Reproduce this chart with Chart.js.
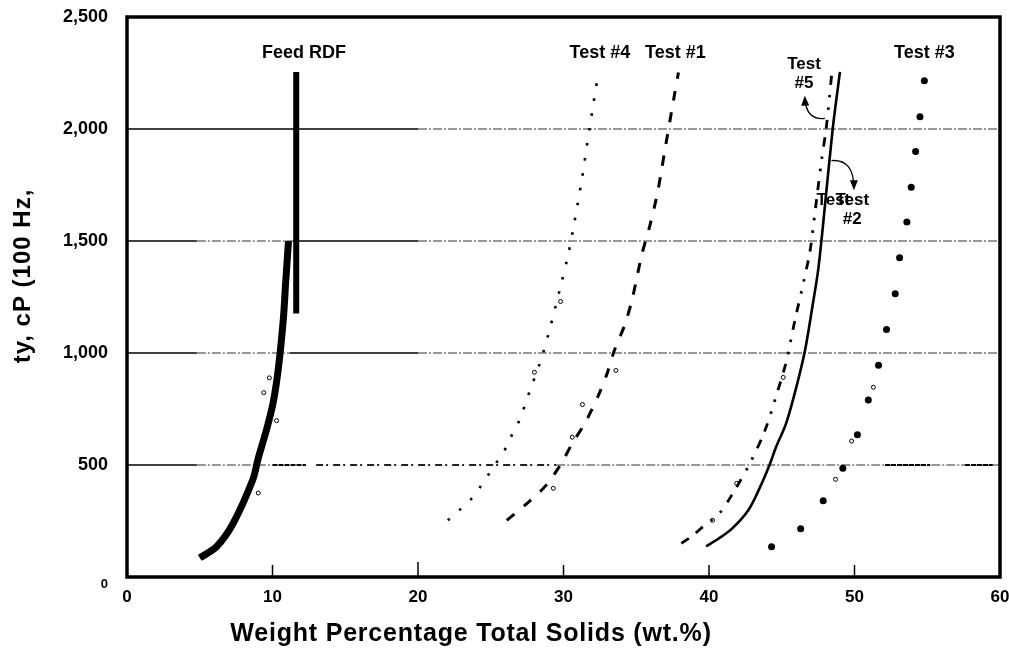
<!DOCTYPE html>
<html lang="en">
<head>
    <meta charset="UTF-8">
    <title>Viscosity vs Total Solids</title>
    <script src="https://cdn.jsdelivr.net/npm/chart.js"></script>
    <style>
        html, body { margin: 0; padding: 0; background: #fff; }
        #wrap { width: 1009px; height: 648px; position: relative; }
    </style>
</head>
<body>
    <div id="wrap">
        <canvas id="myChart"></canvas>
    </div>
    <script>
        // x = weight % total solids, y = viscosity in cP
        const seriesNames = ['Feed RDF', 'Test #4', 'Test #1', 'Test #5', 'Test #2', 'Test #3'];

        const feedX = [5.0, 6.15, 7.3, 8.65, 9.0, 9.6, 10.05, 10.4, 10.75, 10.9, 11.1];
        const feedY = [85, 135, 240, 435, 525, 660, 780, 930, 1155, 1310, 1500];

        // vertical bar next to the feed curve
        const feedBarX = [11.63, 11.63];
        const feedBarY = [1176, 2254];

        const test4X = [22.05, 22.9, 23.7, 24.3, 24.9, 25.5, 26.1, 26.5, 27.0, 27.7, 28.4, 29.0, 29.8, 30.3, 30.7, 31.25, 31.8, 32.4];
        const test4Y = [253, 302, 351, 404, 463, 521, 583, 641, 704, 834, 959, 1093, 1298, 1432, 1566, 1771, 2007, 2252];

        const test1X = [26.1, 27.5, 28.8, 29.85, 30.6, 31.5, 32.4, 33.0, 33.5, 34.2, 34.7, 35.1, 35.4, 35.9, 36.4, 36.7, 37.0, 37.6, 37.9];
        const test1Y = [253, 329, 409, 507, 596, 690, 811, 909, 1012, 1124, 1235, 1355, 1444, 1560, 1696, 1802, 1918, 2143, 2252];

        const test5X = [38.1, 38.9, 39.7, 40.7, 41.55, 42.8, 43.85, 44.7, 45.3, 45.9, 46.45, 46.95, 47.3, 47.75, 48.05, 48.45];
        const test5Y = [150, 186, 231, 283, 364, 506, 655, 826, 959, 1145, 1302, 1458, 1637, 1868, 2000, 2256];

        const test2X = [39.8, 40.7, 41.6, 42.7, 43.5, 44.2, 44.6, 45.3, 46.0, 46.6, 47.1, 47.5, 47.8, 48.5, 49.0];
        const test2Y = [137, 173, 217, 298, 400, 507, 579, 686, 847, 1012, 1204, 1369, 1547, 2000, 2255];

        const test3X = [44.3, 46.3, 47.85, 49.2, 50.2, 50.95, 51.65, 52.2, 52.8, 53.1, 53.6, 53.9, 54.2, 54.5, 54.8];
        const test3Y = [135, 215, 340, 485, 635, 790, 945, 1105, 1265, 1425, 1585, 1740, 1900, 2055, 2215];

        // individual open-circle readings around the curves
        const readingX = [9.4, 9.78, 10.28, 9.02, 29.8, 28.0, 31.3, 30.6, 29.3, 33.6, 45.1, 41.9, 40.25, 48.7, 49.8, 51.3];
        const readingY = [823, 889, 698, 375, 1230, 914, 770, 624, 396, 922, 891, 418, 253, 436, 607, 847];

        const xTicks = [0, 10, 20, 30, 40, 50, 60];
        const yTicks = [0, 500, 1000, 1500, 2000, 2500];
        const yTickLabels = ['0', '500', '1,000', '1,500', '2,000', '2,500'];

        const xTitle = 'Weight Percentage Total Solids (wt.%)';
        const yTitle = 'ty, cP (100 Hz,';

        const pts = (xs, ys) => xs.map((x, i) => ({ x: x, y: ys[i] }));

        const FONT = '"Liberation Sans", Arial, Helvetica, sans-serif';

        // horizontal rules: solid at the left, broken further right
        const gridRuns = {
            2000: [[0, 20, 'solid'], [20, 60, 'dash']],
            1500: [[0, 4.8, 'solid'], [4.8, 11.4, 'dash'], [11.4, 20, 'solid'], [20, 60, 'dash']],
            1000: [[0, 4.8, 'solid'], [4.8, 11.2, 'dash'], [11.2, 20, 'solid'], [20, 60, 'dash']],
            500: [[0, 4.8, 'solid'], [4.8, 10, 'dash'], [10, 12.3, 'heavy'], [13, 29.5, 'broken'], [29.5, 60, 'dash'], [52.1, 55.2, 'heavy'], [57.6, 59.5, 'heavy']]
        };
        const runStyles = {
            solid: { color: '#000', width: 1.6, dash: [] },
            dash: { color: '#333', width: 1.1, dash: [9, 2, 2, 2] },
            heavy: { color: '#000', width: 2, dash: [5, 1] },
            broken: { color: '#222', width: 2, dash: [7, 3, 2, 5] }
        };

        // text notes and pointer arrows, placed in data units
        const notes = [
            { lines: ['Feed RDF'], x: 12.16, y: 2337, size: 18 },
            { lines: ['Test #4'], x: 32.5, y: 2337, size: 18 },
            { lines: ['Test #1'], x: 37.69, y: 2337, size: 18 },
            { lines: ['Test', '#5'], x: 46.53, y: 2290, size: 17 },
            { lines: ['Test #3'], x: 54.8, y: 2341, size: 18 },
            { lines: ['Test'], x: 48.55, y: 1683, size: 17 },
            { lines: ['Test', '#2'], x: 49.85, y: 1683, size: 17 }
        ];
        const arrows = [
            { from: [47.96, 2047], via: [46.66, 2038], to: [46.59, 2140] },
            { from: [48.42, 1859], via: [49.96, 1866], to: [49.96, 1736] }
        ];

        const paperPlugin = {
            id: 'paper',
            beforeDatasetsDraw(chart) {
                const { ctx, scales: { x, y } } = chart;
                ctx.save();
                Object.keys(gridRuns).forEach(level => {
                    const py = y.getPixelForValue(Number(level));
                    gridRuns[level].forEach(([from, to, kind]) => {
                        const st = runStyles[kind];
                        ctx.beginPath();
                        ctx.strokeStyle = st.color;
                        ctx.lineWidth = st.width;
                        ctx.setLineDash(st.dash);
                        ctx.moveTo(x.getPixelForValue(from), py);
                        ctx.lineTo(x.getPixelForValue(to), py);
                        ctx.stroke();
                    });
                });
                ctx.restore();
            },
            afterDatasetsDraw(chart) {
                const { ctx, chartArea: a, scales: { x, y } } = chart;
                ctx.save();

                // frame
                ctx.strokeStyle = '#000';
                ctx.lineWidth = 3.5;
                ctx.setLineDash([]);
                ctx.strokeRect(a.left, a.top, a.right - a.left, a.bottom - a.top);

                // small inside ticks on the x axis
                ctx.lineWidth = 1.5;
                xTicks.slice(1, -1).forEach(v => {
                    const px = x.getPixelForValue(v);
                    ctx.beginPath();
                    ctx.moveTo(px, a.bottom);
                    ctx.lineTo(px, a.bottom - (v === 20 ? 15 : 12));
                    ctx.stroke();
                });

                // notes
                ctx.fillStyle = '#000';
                ctx.textAlign = 'center';
                ctx.textBaseline = 'middle';
                notes.forEach(n => {
                    ctx.font = 'bold ' + n.size + 'px ' + FONT;
                    const px = x.getPixelForValue(n.x);
                    const py = y.getPixelForValue(n.y);
                    n.lines.forEach((t, i) => ctx.fillText(t, px, py + i * (n.size + 2)));
                });

                // curved pointers
                ctx.lineWidth = 1.3;
                arrows.forEach(ar => {
                    const p0 = [x.getPixelForValue(ar.from[0]), y.getPixelForValue(ar.from[1])];
                    const p1 = [x.getPixelForValue(ar.via[0]), y.getPixelForValue(ar.via[1])];
                    const p2 = [x.getPixelForValue(ar.to[0]), y.getPixelForValue(ar.to[1])];
                    ctx.beginPath();
                    ctx.moveTo(p0[0], p0[1]);
                    ctx.quadraticCurveTo(p1[0], p1[1], p2[0], p2[1]);
                    ctx.stroke();
                    const ang = Math.atan2(p2[1] - p1[1], p2[0] - p1[0]);
                    const len = 8, half = 4;
                    ctx.beginPath();
                    ctx.moveTo(p2[0] + Math.cos(ang) * 2, p2[1] + Math.sin(ang) * 2);
                    ctx.lineTo(p2[0] - Math.cos(ang) * len + Math.sin(ang) * half, p2[1] - Math.sin(ang) * len - Math.cos(ang) * half);
                    ctx.lineTo(p2[0] - Math.cos(ang) * len - Math.sin(ang) * half, p2[1] - Math.sin(ang) * len + Math.cos(ang) * half);
                    ctx.closePath();
                    ctx.fill();
                });

                // axis titles
                ctx.font = 'bold 25px ' + FONT;
                ctx.letterSpacing = '0.8px';
                ctx.fillText(xTitle, 471, 634);
                ctx.translate(23, 276);
                ctx.rotate(-Math.PI / 2);
                ctx.font = 'bold 24px ' + FONT;
                ctx.letterSpacing = '1px';
                ctx.fillText(yTitle, 0, 0);

                ctx.restore();
            }
        };

        const ctx = document.getElementById('myChart');
        const chart = new Chart(ctx, {
            type: 'scatter',
            data: {
                datasets: [
                    {
                        label: seriesNames[0],
                        data: pts(feedX, feedY),
                        showLine: true,
                        borderColor: '#000',
                        borderWidth: 7,
                        borderCapStyle: 'butt',
                        tension: 0.3,
                        pointRadius: 0
                    },
                    {
                        label: seriesNames[0] + ' bar',
                        data: pts(feedBarX, feedBarY),
                        showLine: true,
                        borderColor: '#000',
                        borderWidth: 6,
                        borderCapStyle: 'butt',
                        pointRadius: 0
                    },
                    {
                        label: seriesNames[1],
                        data: pts(test4X, test4Y),
                        showLine: true,
                        borderColor: '#000',
                        borderWidth: 2.6,
                        borderDash: [2.6, 12.5],
                        tension: 0.3,
                        pointRadius: 0
                    },
                    {
                        label: seriesNames[2],
                        data: pts(test1X, test1Y),
                        showLine: true,
                        borderColor: '#000',
                        borderWidth: 3,
                        borderDash: [10, 12],
                        tension: 0.3,
                        pointRadius: 0
                    },
                    {
                        label: seriesNames[3],
                        data: pts(test5X, test5Y),
                        showLine: true,
                        borderColor: '#000',
                        borderWidth: 2.8,
                        borderDash: [9, 9, 9, 10, 2.5, 10, 2.5, 10],
                        tension: 0.3,
                        pointRadius: 0
                    },
                    {
                        label: seriesNames[4],
                        data: pts(test2X, test2Y),
                        showLine: true,
                        borderColor: '#000',
                        borderWidth: 2.6,
                        tension: 0.3,
                        pointRadius: 0
                    },
                    {
                        label: seriesNames[5],
                        data: pts(test3X, test3Y),
                        showLine: false,
                        pointRadius: 3.5,
                        pointBackgroundColor: '#000',
                        pointBorderColor: '#000',
                        pointBorderWidth: 0
                    },
                    {
                        label: 'readings',
                        data: pts(readingX, readingY),
                        showLine: false,
                        pointRadius: 2,
                        pointBackgroundColor: '#fff',
                        pointBorderColor: '#000',
                        pointBorderWidth: 1
                    }
                ]
            },
            options: {
                responsive: true,
                maintainAspectRatio: false,
                animation: false,
                events: [],
                layout: { padding: { top: 17, right: 9, left: 0, bottom: 0 } },
                plugins: {
                    legend: { display: false },
                    tooltip: { enabled: false }
                },
                scales: {
                    x: {
                        type: 'linear',
                        min: 0,
                        max: 60,
                        afterBuildTicks: s => { s.ticks = xTicks.map(v => ({ value: v })); },
                        afterFit: s => {
                            s.height = 71;
                            s.paddingLeft = 0;
                            s.paddingRight = 0;
                        },
                        grid: { display: false, drawTicks: false },
                        border: { display: false },
                        ticks: {
                            padding: 10,
                            color: '#000',
                            font: { family: FONT, size: 17, weight: 'bold' },
                            callback: v => String(v)
                        }
                    },
                    y: {
                        type: 'linear',
                        min: 0,
                        max: 2500,
                        afterBuildTicks: s => { s.ticks = yTicks.map(v => ({ value: v })); },
                        afterFit: s => {
                            s.width = 127;
                            s.paddingTop = 0;
                            s.paddingBottom = 0;
                        },
                        grid: { display: false, drawTicks: false },
                        border: { display: false },
                        ticks: {
                            padding: 19,
                            color: '#000',
                            font: ctx => ({ family: FONT, size: ctx.tick && ctx.tick.value === 0 ? 13 : 18, weight: 'bold' }),
                            callback: v => {
                                const label = yTickLabels[yTicks.indexOf(v)];
                                return v === 0 ? ['', label] : label;
                            }
                        }
                    }
                }
            },
            plugins: [paperPlugin]
        });
    </script>
</body>
</html>
